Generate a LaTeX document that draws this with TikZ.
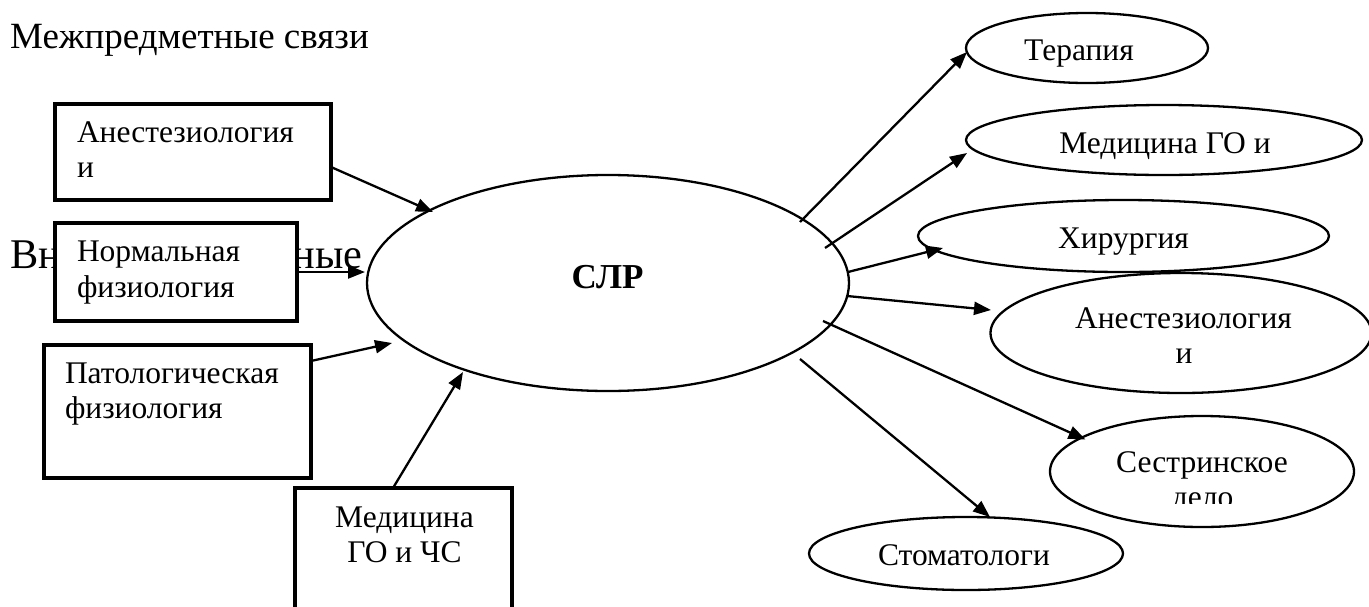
\documentclass[tikz,border=0pt]{standalone}
\usepackage{fontspec}
\setmainfont{Liberation Serif}
\usetikzlibrary{arrows.meta,calc,shapes.geometric}
\begin{document}
\begin{tikzpicture}[x=1pt,y=-1pt,
  ell/.style={ellipse, draw, line width=2.3pt, fill=white, inner sep=0pt, outer sep=0pt},
  boxnode/.style={rectangle, draw, line width=3.3pt, fill=white, inner sep=0pt, outer sep=0pt},
  conn/.style={line width=2.3pt, -{Triangle[length=17pt,width=13pt]}},
  ltxt/.style={inner sep=0pt, outer sep=0pt, anchor=base west, font=\fontsize{31.5}{36}\selectfont},
  ctxt/.style={inner sep=0pt, outer sep=0pt, anchor=base, font=\fontsize{31.5}{36}\selectfont}]
\useasboundingbox (0,0) rectangle (1369,606);
\fill[white] (0,0) rectangle (1369,606);

% headings
\node[inner sep=0pt, anchor=base west, font=\fontsize{37}{42}\selectfont] (title) at (10,48) {Межпредметные связи};
\node[inner sep=0pt, anchor=base west, font=\fontsize{42.3}{48}\selectfont] (inner) at (10,268) {Внутрипредметные};

% boxes
\node[boxnode, minimum width=276pt, minimum height=96pt] (b1) at (193,152) {};
\node[boxnode, minimum width=242pt, minimum height=98pt] (b2) at (176,272) {};
\node[boxnode, minimum width=267pt, minimum height=133pt] (b3) at (177.5,411.5) {};
\node[boxnode, minimum width=217pt, minimum height=142pt] (b4) at (403.5,559) {};

% central ellipse
\node[ell, minimum width=482pt, minimum height=216pt] (slr) at (608,283) {};

% right ellipses
\node[ell, minimum width=242pt, minimum height=70pt] (e1) at (1087,48) {};
\node[ell, minimum width=396pt, minimum height=70pt] (e2) at (1164,140) {};
\node[ell, minimum width=411pt, minimum height=72pt] (e3) at (1123.5,236) {};
\node[ell, minimum width=381pt, minimum height=120pt] (e4) at (1181,333) {};
\node[ell, minimum width=304pt, minimum height=111pt] (e5) at (1202,471.5) {};
\node[ell, minimum width=314pt, minimum height=73pt] (e6) at (966,553.5) {};

% texts in boxes
\node[ltxt] (t1a) at (77,142) {Анестезиология};
\node[ltxt] (t1b) at (77,177) {и};
\node[ltxt] (t2a) at (77,261) {Нормальная};
\node[ltxt] (t2b) at (77,297) {физиология};
\node[ltxt] (t3a) at (65,383) {Патологическая};
\node[ltxt] (t3b) at (65,418) {физиология};
\node[ctxt] (t4a) at (404.5,527) {Медицина};
\node[ctxt] (t4b) at (404.5,562) {ГО и ЧС};

% central text
\node[inner sep=0pt, anchor=base, font=\fontsize{35}{40}\selectfont\bfseries] (tslr) at (607.5,288) {СЛР};

% texts in right ellipses
\node[ctxt] (te1) at (1079,60) {Терапия};
\node[ctxt] (te2) at (1165,153) {Медицина ГО и};
\node[ctxt] (te3) at (1123.5,248) {Хирургия};
\node[ctxt] (te4a) at (1183.5,328) {Анестезиология};
\node[ctxt] (te4b) at (1184,363) {и};
\node[ctxt] (te5a) at (1202,472) {Сестринское};
\begin{scope}
  \clip (1100,480) rectangle (1300,503);
  \node[ctxt] (te5b) at (1202.5,507) {дело};
\end{scope}
\node[ctxt] (te6) at (964,565) {Стоматологи};

% connectors into the centre
\draw[conn] ($(b1)+(138,15)$) -- ($(slr)+(-175,-71)$);
\draw[conn] ($(b2)+(121,0)$) -- ($(slr)+(-243,-11)$);
\draw[conn] ($(b3)+(133.5,-50.5)$) -- ($(slr)+(-216,60)$);
\draw[conn] ($(b4)+(-10.5,-71)$) -- ($(slr)+(-145,89)$);

% connectors out of the centre
\draw[conn] ($(slr)+(192,-61)$) -- ($(e1)+(-120,4)$);
\draw[conn] ($(slr)+(217,-35)$) -- ($(e2)+(-197,13)$);
\draw[conn] ($(slr)+(240,-11)$) -- ($(e3)+(-180.5,12)$);
\draw[conn] ($(slr)+(239,13)$) -- ($(e4)+(-190,-23)$);
\draw[conn] ($(slr)+(215,38)$) -- ($(e5)+(-116.5,-32)$);
\draw[conn] ($(slr)+(192,76)$) -- ($(e6)+(24,-36.5)$);
\end{tikzpicture}
\end{document}
